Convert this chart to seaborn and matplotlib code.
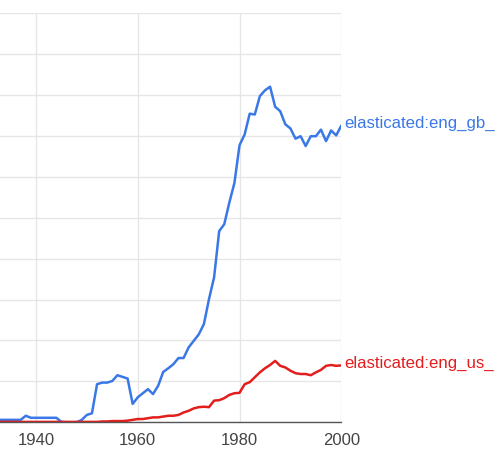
"""Ngram-style frequency chart for 'elasticated' (GB vs US English)."""

import matplotlib
matplotlib.use("Agg")
import matplotlib.pyplot as plt
import pandas as pd
import seaborn as sns

years = list(range(1933, 2001))

# relative frequency, in units of one gridline
gb_values = [
    0.06, 0.06, 0.06, 0.06, 0.06, 0.16, 0.11, 0.11, 0.11, 0.11,  # 1933-1942
    0.11, 0.11, 0.01, 0.0, 0.0, 0.0, 0.06, 0.18, 0.22, 0.93,      # 1943-1952
    0.97, 0.97, 1.01, 1.15, 1.11, 1.07, 0.45, 0.61, 0.71, 0.81,   # 1953-1962
    0.69, 0.89, 1.23, 1.32, 1.42, 1.57, 1.57, 1.83, 1.99, 2.15,   # 1963-1972
    2.40, 3.01, 3.54, 4.67, 4.84, 5.37, 5.85, 6.77, 7.03, 7.54,   # 1973-1982
    7.52, 7.97, 8.11, 8.20, 7.71, 7.60, 7.28, 7.18, 6.93, 6.99,   # 1983-1992
    6.75, 6.99, 6.99, 7.15, 6.87, 7.13, 7.01, 7.25,               # 1993-2000
]
us_values = [
    0.01, 0.01, 0.01, 0.01, 0.01, 0.01, 0.01, 0.01, 0.01, 0.01,   # 1933-1942
    0.01, 0.01, 0.01, 0.01, 0.01, 0.01, 0.01, 0.01, 0.01, 0.01,   # 1943-1952
    0.02, 0.02, 0.03, 0.03, 0.03, 0.04, 0.06, 0.08, 0.08, 0.10,   # 1953-1962
    0.12, 0.12, 0.14, 0.16, 0.16, 0.18, 0.24, 0.28, 0.34, 0.37,   # 1963-1972
    0.38, 0.37, 0.53, 0.54, 0.59, 0.67, 0.71, 0.72, 0.93, 0.98,   # 1973-1982
    1.10, 1.22, 1.32, 1.40, 1.50, 1.38, 1.34, 1.26, 1.20, 1.18,   # 1983-1992
    1.18, 1.15, 1.22, 1.28, 1.38, 1.40, 1.38, 1.39,               # 1993-2000
]
series_names = ["elasticated:eng_gb_2019", "elasticated:eng_us_2019"]
# only the visible part of each label fits in the figure
label_texts = ["elasticated:eng_gb_", "elasticated:eng_us_"]
x_ticks = [1940, 1960, 1980, 2000]

BLUE = "#3b78e7"
RED = "#e41d1d"

df = pd.DataFrame({
    "year": years * 2,
    "value": gb_values + us_values,
    "series": [series_names[0]] * len(years) + [series_names[1]] * len(years),
})

sns.set_style("white")
plt.rcParams["font.family"] = ["Liberation Sans", "DejaVu Sans"]

fig = plt.figure(figsize=(4.99, 4.60), dpi=100)
ax = fig.add_axes([0.0, 36.7 / 460, 341.3 / 499, 409.3 / 460])

sns.lineplot(
    data=df, x="year", y="value", hue="series",
    palette=[BLUE, RED], linewidth=1.8, legend=False, ax=ax,
)

ax.set_xlim(1932.93, 2000)
ax.set_ylim(0, 10)
ax.set_xticks(x_ticks)
ax.set_xticklabels([str(t) for t in x_ticks])
ax.set_yticks(range(0, 11))
ax.set_yticklabels([])
ax.tick_params(axis="x", length=3.8, width=1.1, color="#333333",
               labelsize=12, labelcolor="#444444", pad=3.2)
ax.tick_params(axis="y", length=0)
ax.grid(True, color="#e6e6e6", linewidth=1.0)
ax.set_axisbelow(True)
ax.set_xlabel("")
ax.set_ylabel("")

for side in ["left", "right", "top"]:
    ax.spines[side].set_visible(False)
ax.spines["bottom"].set_color("#555555")
ax.spines["bottom"].set_linewidth(1.0)

for text, vals, color in [(label_texts[0], gb_values, BLUE),
                          (label_texts[1], us_values, RED)]:
    ax.annotate(text, xy=(years[-1], vals[-1]), xytext=(2.2, 2.5),
                textcoords="offset points", color=color, fontsize=12.1,
                va="center", ha="left", annotation_clip=False)

fig.savefig("out.png", dpi=100)
plt.close(fig)
